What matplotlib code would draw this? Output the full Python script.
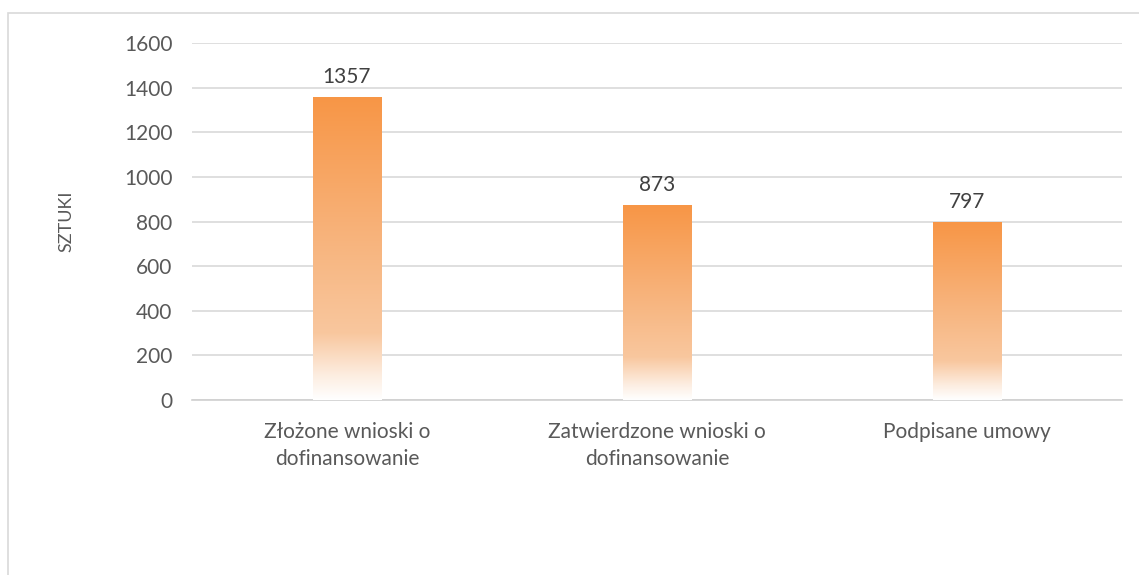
import matplotlib.pyplot as plt
import numpy as np
from matplotlib.colors import LinearSegmentedColormap
from matplotlib.patches import Rectangle

# Data
categories = ["Złożone wnioski o\ndofinansowanie", "Zatwierdzone wnioski o\ndofinansowanie", "Podpisane umowy"]
values = [1357, 873, 797]
y_ticks = [0, 200, 400, 600, 800, 1000, 1200, 1400, 1600]

TEXT = "#595959"
GRID = "#D9D9D9"
ORANGE = (247 / 255, 150 / 255, 70 / 255)

plt.rcParams["font.family"] = ["Lato", "DejaVu Sans"]

fig = plt.figure(figsize=(11.39, 5.75), dpi=100)
W, H = 1139, 575
ax = fig.add_axes([192 / W, 1 - 400 / H, (1122 - 192) / W, (400 - 43) / H])

# Outer chart border (cropped on right and bottom)
fig.patches.append(Rectangle((8 / W, -0.1), 1.2, 1 - 13 / H + 0.1, transform=fig.transFigure,
                             fill=False, edgecolor="#D9D9D9", linewidth=1.2))

# Gradient colormap: white at bottom to orange at top
cmap = LinearSegmentedColormap.from_list(
    "fade",
    [(0.0, (1, 1, 1, 1)),
     (0.08, (0.99, 0.93, 0.88, 1)),
     (0.22, (0.975, 0.78, 0.62, 1)),
     (0.55, (0.97, 0.70, 0.48, 1)),
     (1.0, ORANGE + (1,))],
)
grad = np.linspace(0, 1, 256).reshape(-1, 1)

x = np.arange(len(categories))
bar_w = 0.22
bars = ax.bar(x, values, width=bar_w, color="none", zorder=3)
for b, v in zip(bars, values):
    x0 = b.get_x()
    ax.imshow(grad, cmap=cmap, origin="lower", aspect="auto",
              extent=(x0, x0 + bar_w, 0, v), zorder=3, interpolation="bilinear")
    ax.text(b.get_x() + bar_w / 2, v + 45, str(v), ha="center", va="bottom",
            fontsize=15, color="#404040")

ax.set_xlim(-0.5, len(categories) - 0.5)
ax.set_ylim(0, 1600)
ax.set_yticks(y_ticks)
ax.set_xticks(x)
ax.set_xticklabels(categories, fontsize=15, color=TEXT, linespacing=1.45)
ax.tick_params(axis="y", labelsize=15, labelcolor=TEXT, length=0, pad=14)
ax.tick_params(axis="x", length=0, pad=16)
ax.grid(axis="y", color=GRID, linewidth=1.2, zorder=0)
ax.set_axisbelow(True)
for s in ["top", "right", "left"]:
    ax.spines[s].set_visible(False)
ax.spines["bottom"].set_color("#D0D0D0")
ax.spines["bottom"].set_linewidth(1.2)

ax.set_ylabel("SZTUKI", fontsize=13, color=TEXT, labelpad=36)

fig.savefig("out.png", dpi=100)
